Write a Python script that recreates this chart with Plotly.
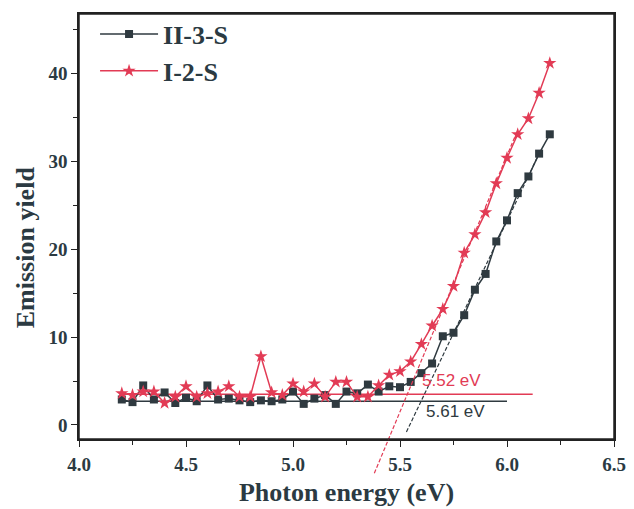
import plotly.graph_objects as go

energy = [4.20, 4.25, 4.30, 4.35, 4.40, 4.45, 4.50, 4.55, 4.60, 4.65,
          4.70, 4.75, 4.80, 4.85, 4.90, 4.95, 5.00, 5.05, 5.10, 5.15,
          5.20, 5.25, 5.30, 5.35, 5.40, 5.45, 5.50, 5.55, 5.60, 5.65,
          5.70, 5.75, 5.80, 5.85, 5.90, 5.95, 6.00, 6.05, 6.10, 6.15, 6.20]

yield_II3S = [2.9, 2.6, 4.5, 2.9, 3.7, 2.5, 3.1, 2.7, 4.5, 2.9,
              3.0, 2.8, 2.6, 2.8, 2.7, 2.9, 3.8, 2.4, 3.0, 3.4,
              2.4, 3.8, 3.6, 4.6, 3.8, 4.4, 4.3, 4.9, 5.9, 7.0,
              10.1, 10.5, 12.5, 15.4, 17.2, 20.9, 23.3, 26.4, 28.3, 30.9, 33.1]

yield_I2S = [3.6, 3.4, 3.8, 3.8, 2.5, 3.2, 4.4, 3.2, 3.6, 3.8,
             4.4, 3.2, 3.2, 7.8, 3.7, 3.4, 4.7, 3.8, 4.7, 3.2,
             4.9, 4.9, 3.2, 3.2, 4.5, 5.7, 6.1, 7.2, 9.2, 11.3,
             13.2, 15.8, 19.6, 21.7, 24.2, 27.5, 30.4, 33.1, 34.9, 37.8, 41.2]

# fitted baselines (x range, level) and tangent lines (two points each)
base_II3S_x = [4.20, 6.00]
base_II3S_y = [2.7, 2.7]
base_I2S_x = [4.20, 6.12]
base_I2S_y = [3.5, 3.5]
tan_II3S_x = [5.53, 6.15]
tan_II3S_y = [-0.8, 30.9]
tan_I2S_x = [5.38, 6.05]
tan_I2S_y = [-5.5, 33.6]

onset_labels = ["5.52 eV", "5.61 eV"]
onset_label_x = [5.74, 5.76]
onset_label_y = [5.1, 1.5]

series_names = ["II-3-S", "I-2-S"]
x_title = "Photon energy (eV)"
y_title = "Emission yield"

x_range = [4.0, 6.5]
y_range = [-1.6, 46.8]

GRAY = "#2f3a40"
RED = "#e23b55"
TXT = "#2b3a42"
AX = "#222222"
SERIF = "Liberation Serif"

fig = go.Figure()

fig.add_trace(go.Scatter(x=base_II3S_x, y=base_II3S_y, mode="lines",
                         line=dict(color=GRAY, width=1.5), showlegend=False))
fig.add_trace(go.Scatter(x=base_I2S_x, y=base_I2S_y, mode="lines",
                         line=dict(color=RED, width=1.5), showlegend=False))

fig.add_trace(go.Scatter(x=energy, y=yield_II3S, mode="lines+markers", name=series_names[0],
                         line=dict(color=GRAY, width=1.5),
                         marker=dict(symbol="square", size=8, color=GRAY)))
fig.add_trace(go.Scatter(x=energy, y=yield_I2S, mode="lines+markers", name=series_names[1],
                         line=dict(color=RED, width=1.5),
                         marker=dict(symbol="star", size=10, color=RED)))


def to_paper(v):
    return (v - y_range[0]) / (y_range[1] - y_range[0])


for xs, ys, col in [(tan_II3S_x, tan_II3S_y, GRAY), (tan_I2S_x, tan_I2S_y, RED)]:
    fig.add_shape(type="line", xref="x", yref="paper", opacity=1,
                  x0=xs[0], x1=xs[1], y0=to_paper(ys[0]), y1=to_paper(ys[1]),
                  line=dict(color=col, width=1.2, dash="4px,2px"))

# plot frame
fig.add_shape(type="rect", xref="paper", yref="paper", x0=0, x1=1, y0=0, y1=1, opacity=1,
              fillcolor="rgba(0,0,0,0)", line=dict(color=AX, width=1.5), layer="above")

for txt, lx, ly, col in zip(onset_labels, onset_label_x, onset_label_y, [RED, GRAY]):
    fig.add_annotation(x=lx, y=ly, text=txt, showarrow=False, xref="x", yref="y",
                       font=dict(family="Liberation Sans", size=17, color=col))

# y-axis title (placed slightly below the axis centre, as in the original)
fig.add_annotation(x=-0.1, y=0.45, xref="paper", yref="paper", text="<b>" + y_title + "</b>",
                   textangle=-90, showarrow=False, xanchor="center", yanchor="middle",
                   font=dict(family=SERIF, size=26, color=TXT))

# page body has an 8px default margin, so the figure is sized to fit the window
fig.update_layout(
    template="simple_white",
    width=626, height=501,
    margin=dict(l=71, r=20, t=6, b=70, autoexpand=False),
    paper_bgcolor="white", plot_bgcolor="white",
    showlegend=True,
    legend=dict(x=0.03, y=1.008, xanchor="left", yanchor="top",
                bgcolor="rgba(0,0,0,0)", borderwidth=0,
                font=dict(family=SERIF, size=26, color=TXT, weight="bold"),
                itemwidth=58, tracegroupgap=0),
)

axis_common = dict(showgrid=False, zeroline=False, showline=True, linecolor=AX,
                   linewidth=1.5, mirror=True, ticks="outside", tickcolor=AX,
                   ticklen=6, tickwidth=1.3, automargin=False,
                   tickfont=dict(family=SERIF, size=19, color=TXT, weight="bold"))

fig.update_xaxes(range=x_range, tickvals=[4.0, 4.5, 5.0, 5.5, 6.0, 6.5], tickformat=".1f",
                 minor=dict(dtick=0.25, ticks="outside", ticklen=4, tickcolor=AX),
                 ticklabelstandoff=1,
                 title=dict(text="<b>" + x_title + "</b>", standoff=9,
                            font=dict(family=SERIF, size=26, color=TXT)),
                 **axis_common)
fig.update_yaxes(range=y_range, tickvals=[0, 10, 20, 30, 40],
                 minor=dict(dtick=5, ticks="outside", ticklen=4, tickcolor=AX),
                 **axis_common)

fig.write_html("out.html")
